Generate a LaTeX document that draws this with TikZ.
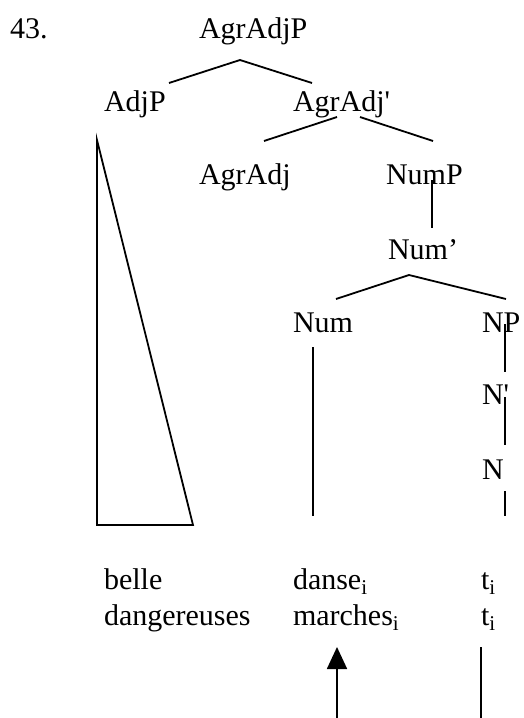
\documentclass[tikz,border=0pt]{standalone}
\usepackage{fontspec}
\setmainfont{Liberation Serif}
\usetikzlibrary{arrows.meta}
\begin{document}
\begin{tikzpicture}[x=1pt,y=-1pt,
  lbl/.style={anchor=base west,inner sep=0pt,outer sep=0pt,font=\fontsize{30}{36}\selectfont},
  branch/.style={line width=1.8pt,line cap=butt},
  mover/.style={line width=1.8pt,-{Triangle[width=20pt,length=22pt]}}]
\useasboundingbox (0,0) rectangle (523,718);
% labels
\node[lbl] (ex) at (10,38) {43.};
\node[lbl] (agradjp) at (199,38) {AgrAdjP};
\node[lbl] (adjp) at (104,111) {AdjP};
\node[lbl] (agradjbar) at (293,111) {AgrAdj\textquotesingle};
\node[lbl] (agradj) at (199,184) {AgrAdj};
\node[lbl] (nump) at (386,184) {NumP};
\node[lbl] (numbar) at (388,259) {Num’};
\node[lbl] (num) at (293,332) {Num};
\node[lbl] (np) at (482,332) {NP};
\node[lbl] (nbar) at (482,404) {N\textquotesingle};
\node[lbl] (n) at (482,479) {N};
\node[lbl] (w1) at (104,589) {belle};
\node[lbl] (w2) at (293,589) {danse\textsubscript{i}};
\node[lbl] (w3) at (481,589) {t\textsubscript{i}};
\node[lbl] (w4) at (104,625) {dangereuses};
\node[lbl] (w5) at (293,625) {marches\textsubscript{i}};
\node[lbl] (w6) at (481,625) {t\textsubscript{i}};
% branch points
\coordinate (a0) at (240,60);
\coordinate (a1) at (169,83);
\coordinate (a2) at (312,83);
\coordinate (b1) at (337,117);
\coordinate (b2) at (264,141);
\coordinate (b3) at (360,117);
\coordinate (b4) at (433,141);
\coordinate (t0) at (97,140);
\coordinate (t1) at (97,525);
\coordinate (t2) at (193,525);
\coordinate (c0) at (432,180);
\coordinate (c1) at (432,228);
\coordinate (d0) at (409,275);
\coordinate (d1) at (336,299);
\coordinate (d2) at (506,299);
\coordinate (e0) at (313,347);
\coordinate (e1) at (313,516);
\coordinate (f0) at (505,324);
\coordinate (f1) at (505,372);
\coordinate (g0) at (505,397);
\coordinate (g1) at (505,445);
\coordinate (h0) at (505,491);
\coordinate (h1) at (505,516);
\coordinate (m0) at (337,718);
\coordinate (m1) at (337,647);
\coordinate (k0) at (481,647);
\coordinate (k1) at (481,718);
% connectors
\draw[branch] (a1) -- (a0) -- (a2);
\draw[branch] (b1) -- (b2);
\draw[branch] (b3) -- (b4);
\draw[branch,line join=miter] (t0) -- (t1) -- (t2) -- cycle;
\draw[branch] (c0) -- (c1);
\draw[branch] (d1) -- (d0) -- (d2);
\draw[branch] (e0) -- (e1);
\draw[branch] (f0) -- (f1);
\draw[branch] (g0) -- (g1);
\draw[branch] (h0) -- (h1);
\draw[mover] (m0) -- (m1);
\draw[branch] (k0) -- (k1);
\end{tikzpicture}
\end{document}
